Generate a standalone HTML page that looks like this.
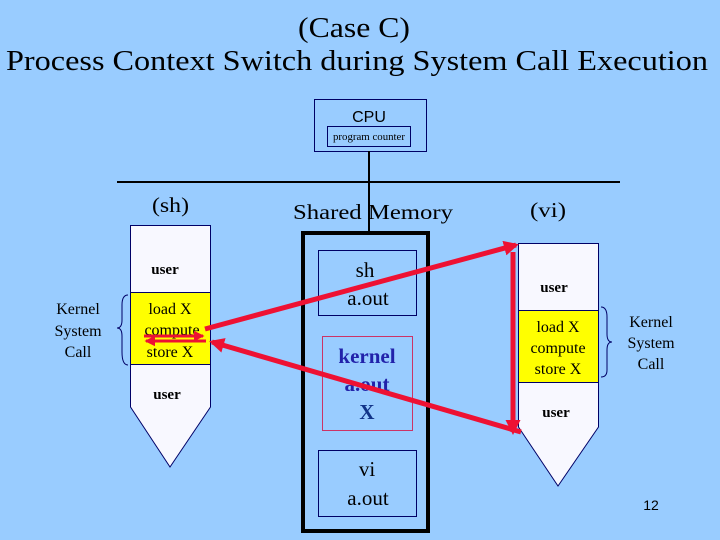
<!DOCTYPE html>
<html><head><meta charset="utf-8"><style>
html,body{margin:0;padding:0;background:#99ccff;}
svg{display:block}
text{font-family:"Liberation Serif",serif;fill:#000}
</style></head><body>
<svg width="720" height="540" viewBox="0 0 720 540" xmlns="http://www.w3.org/2000/svg">
<defs>
<marker id="ah" markerWidth="3" markerHeight="3" refX="2.4" refY="1.5" orient="auto" markerUnits="strokeWidth"><path d="M0,0 L3,1.5 L0,3 z" fill="#ee1133"/></marker>
<marker id="ah2" markerWidth="3.5" markerHeight="3.5" refX="3" refY="1.75" orient="auto" markerUnits="strokeWidth"><path d="M0,0 L3.5,1.75 L0,3.5 z" fill="#ee1133"/></marker>
</defs>
<rect width="720" height="540" fill="#99ccff"/>
<text x="298" y="37" font-size="28" textLength="112" lengthAdjust="spacingAndGlyphs">(Case C)</text>
<text x="6" y="70" font-size="28" textLength="702" lengthAdjust="spacingAndGlyphs">Process Context Switch during System Call  Execution</text>

<rect x="314.5" y="99.5" width="112" height="52" fill="none" stroke="#000066" stroke-width="1"/>
<text x="369" y="122" font-size="16" text-anchor="middle" style="font-family:'Liberation Sans',sans-serif">CPU</text>
<rect x="327.5" y="126.5" width="83" height="20" fill="none" stroke="#000066" stroke-width="1"/>
<text x="333" y="140" font-size="10" textLength="72" lengthAdjust="spacingAndGlyphs">program counter</text>
<line x1="369" y1="151" x2="369" y2="233" stroke="#000" stroke-width="2"/>
<line x1="117" y1="182" x2="620" y2="182" stroke="#000" stroke-width="2"/>

<text x="152" y="212" font-size="21" textLength="37" lengthAdjust="spacingAndGlyphs">(sh)</text>
<text x="293" y="219" font-size="21" textLength="160" lengthAdjust="spacingAndGlyphs">Shared  Memory</text>
<text x="530" y="217" font-size="21" textLength="36" lengthAdjust="spacingAndGlyphs">(vi)</text>

<!-- left process -->
<path d="M130.5,225.5 H210.5 V407 L170,467 L130.5,407 Z" fill="#f8f8ff" stroke="#000066"/>
<rect x="130.5" y="292.5" width="80" height="72" fill="#ffff00" stroke="#000066"/>
<text x="165" y="274" font-size="15" font-weight="bold" text-anchor="middle">user</text>
<text x="170" y="314" font-size="16" text-anchor="middle">load X</text>
<text x="172" y="335" font-size="16" text-anchor="middle">compute</text>
<text x="170" y="357" font-size="16" text-anchor="middle">store X</text>
<text x="167" y="399" font-size="15" font-weight="bold" text-anchor="middle">user</text>
<path d="M128,295 Q122,295 122,305 V320 Q122,328 117,328 Q122,328 122,336 V352 Q122,365 128,365" fill="none" stroke="#000066"/>
<text x="78" y="314" font-size="16" text-anchor="middle">Kernel</text>
<text x="78" y="336" font-size="16" text-anchor="middle">System</text>
<text x="78" y="357" font-size="16" text-anchor="middle">Call</text>

<!-- right process -->
<path d="M518.5,243.5 H598.5 V427 L558,486 L518.5,427 Z" fill="#f8f8ff" stroke="#000066"/>
<rect x="518.5" y="310.5" width="80" height="72" fill="#ffff00" stroke="#000066"/>
<text x="554" y="292" font-size="15" font-weight="bold" text-anchor="middle">user</text>
<text x="558" y="332" font-size="16" text-anchor="middle">load X</text>
<text x="558" y="353" font-size="16" text-anchor="middle">compute</text>
<text x="558" y="374" font-size="16" text-anchor="middle">store X</text>
<text x="556" y="417" font-size="15" font-weight="bold" text-anchor="middle">user</text>
<path d="M601,307 Q607,307 607,317 V334 Q607,342 612,342 Q607,342 607,350 V370 Q607,377 601,377" fill="none" stroke="#000066"/>
<text x="651" y="327" font-size="16" text-anchor="middle">Kernel</text>
<text x="651" y="348" font-size="16" text-anchor="middle">System</text>
<text x="651" y="369" font-size="16" text-anchor="middle">Call</text>

<!-- memory -->
<rect x="303" y="233" width="125" height="298" fill="none" stroke="#000" stroke-width="4"/>
<rect x="318.5" y="250.5" width="98" height="65" fill="none" stroke="#000066"/>
<text x="365" y="277" font-size="21" text-anchor="middle">sh</text>
<text x="368" y="305" font-size="21" text-anchor="middle">a.out</text>
<rect x="322.5" y="336.5" width="90" height="94" fill="none" stroke="#cc3366"/>
<text x="367" y="363" font-size="21" font-weight="bold" text-anchor="middle" style="fill:#2222aa">kernel</text>
<text x="367" y="391" font-size="21" font-weight="bold" text-anchor="middle" style="fill:#2222aa">a.out</text>
<text x="367" y="419" font-size="21" font-weight="bold" text-anchor="middle" style="fill:#113388">X</text>
<rect x="318.5" y="450.5" width="98" height="66" fill="none" stroke="#000066"/>
<text x="367" y="476" font-size="21" text-anchor="middle">vi</text>
<text x="368" y="505" font-size="21" text-anchor="middle">a.out</text>

<!-- red arrows -->
<line x1="205" y1="329" x2="516" y2="245" stroke="#ee1133" stroke-width="5" marker-end="url(#ah)"/>
<line x1="513" y1="252" x2="513" y2="432" stroke="#ee1133" stroke-width="5" marker-end="url(#ah)"/>
<line x1="521" y1="432" x2="212" y2="342" stroke="#ee1133" stroke-width="5" marker-end="url(#ah)"/>
<line x1="144" y1="336" x2="203" y2="336" stroke="#ee1133" stroke-width="3" marker-end="url(#ah2)"/>
<line x1="206" y1="341" x2="146" y2="341" stroke="#ee1133" stroke-width="3" marker-end="url(#ah2)"/>

<text x="651" y="510" font-size="14" text-anchor="middle" style="font-family:'Liberation Sans',sans-serif">12</text>
</svg>
</body></html>
